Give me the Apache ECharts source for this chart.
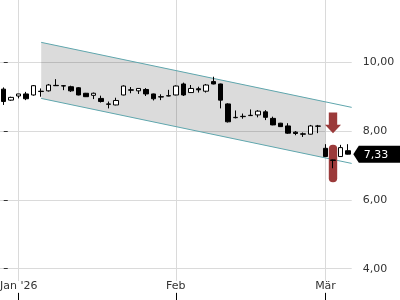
<!DOCTYPE html>
<html><head><meta charset="utf-8">
<style>html,body{margin:0;padding:0;background:#fff}#c{width:400px;height:300px}</style>
<script src="https://cdn.jsdelivr.net/npm/echarts@6/dist/echarts.min.js"></script>
</head><body><div id="c"></div>
<script>
// ---- data ----
const dates = ['2025-12-30','2025-12-31','2026-01-02','2026-01-05','2026-01-06','2026-01-07','2026-01-08','2026-01-09',
 '2026-01-12','2026-01-13','2026-01-14','2026-01-15','2026-01-16','2026-01-19','2026-01-20','2026-01-21','2026-01-22','2026-01-23',
 '2026-01-26','2026-01-27','2026-01-28','2026-01-29','2026-01-30','2026-02-02','2026-02-03','2026-02-04','2026-02-05','2026-02-06',
 '2026-02-09','2026-02-10','2026-02-11','2026-02-12','2026-02-13','2026-02-16','2026-02-17','2026-02-18','2026-02-19','2026-02-20',
 '2026-02-23','2026-02-24','2026-02-25','2026-02-26','2026-02-27','2026-03-02','2026-03-03','2026-03-04','2026-03-05'];
const opens  = [9.22,8.90,9.02,9.08,9.05,9.16,9.17,9.33,9.32,9.29,9.26,9.10,9.04,8.95,8.79,8.76,9.05,9.20,9.17,9.21,9.08,9.00,9.02,
 9.05,9.37,9.12,9.23,9.16,9.44,9.37,8.79,8.39,8.42,8.45,8.47,8.56,8.37,8.23,8.15,7.97,7.92,7.91,8.14,7.50,7.16,7.26,7.43];
const closes = [8.86,8.98,9.08,8.94,9.32,9.15,9.34,9.32,9.31,9.17,9.05,9.00,9.10,8.86,8.78,8.89,9.31,9.19,9.24,9.08,8.94,8.99,9.03,
 9.31,9.05,9.24,9.20,9.34,9.37,8.90,8.27,8.40,8.43,8.46,8.58,8.40,8.18,8.13,7.94,7.93,7.91,8.15,8.15,7.26,7.15,7.52,7.33];
const lows   = [8.76,8.88,8.95,8.90,9.03,9.00,9.15,9.31,9.19,9.14,9.04,8.99,8.93,8.83,8.66,8.75,9.04,9.10,9.08,9.02,8.89,8.90,9.01,
 9.04,9.02,9.11,9.12,9.12,9.36,8.66,8.25,8.37,8.36,8.44,8.40,8.32,8.17,8.12,7.92,7.88,7.83,7.90,7.94,7.25,6.92,7.25,7.32];
const highs  = [9.27,9.00,9.08,9.14,9.34,9.24,9.37,9.51,9.34,9.32,9.28,9.11,9.12,9.03,8.86,8.97,9.33,9.28,9.25,9.25,9.09,9.07,9.20,
 9.33,9.41,9.34,9.29,9.37,9.58,9.38,8.81,8.60,8.51,8.63,8.61,8.61,8.42,8.24,8.23,8.00,7.96,8.18,8.18,7.62,7.17,7.60,7.62];

const tickDates  = ['2026-01-02','2026-02-02','2026-03-02'];
const tickLabels = ["Jan '26", 'Feb', 'Mär'];

const yMin = 2, yMax = 12, yStep = 2;

// trend channel (x in trading-day index)
const channelX     = [5, 46.5];
const channelUpper = [10.58, 8.69];
const channelLower = [8.95, 7.06];
const fillX        = [5, 43];
const fillUpper    = [10.58, 8.85];
const fillLower    = [8.95, 7.22];

// signal marks
const signalX      = [44];
const arrowTop     = [8.54];
const arrowTip     = [7.94];
const barTop       = [7.60];
const barBottom    = [6.51];

// ---- chart ----
const tickIdx = tickDates.map(d => dates.indexOf(d));
const fmt = v => v.toFixed(2).replace('.', ',');
const lastPrice = closes[closes.length - 1];
const FONT = 'DejaVu Sans';

const chart = echarts.init(document.getElementById('c'), null, {renderer: 'canvas'});
chart.setOption({
  animation: false,
  textStyle: {fontFamily: FONT},
  grid: {left: 0, right: 48.3, top: -6.5, bottom: -37.5, containLabel: false, outerBoundsMode: 'none'},
  xAxis: [
    {type: 'category', data: dates, boundaryGap: true, show: false},
    {type: 'value', min: -0.5, max: dates.length - 0.5, position: 'bottom', offset: -37.5,
      axisLine: {show: false},
      axisTick: {show: true, inside: true, length: 7, customValues: tickIdx, lineStyle: {color: '#000'}},
      axisLabel: {show: true, inside: true, margin: 8, customValues: tickIdx, color: '#333', fontSize: 11,
        fontFamily: FONT, backgroundColor: '#fff',
        formatter: v => tickLabels[tickIdx.indexOf(Math.round(v))]},
      splitLine: {show: true, lineStyle: {color: '#dadada', width: 1}}
    }
  ],
  yAxis: {type: 'value', position: 'right', min: yMin, max: yMax, interval: yStep,
    axisLine: {show: false},
    axisTick: {show: true, length: 4, lineStyle: {color: '#333'}},
    axisLabel: {margin: 11, color: '#333', fontSize: 11, fontFamily: FONT, formatter: fmt},
    splitLine: {show: true, lineStyle: {color: '#dadada', width: 1}}
  },
  series: [
    {type: 'custom', xAxisIndex: 1, yAxisIndex: 0, z: 1, silent: true,
      data: [[fillX[0], fillUpper[0], fillLower[0]]],
      renderItem: (params, api) => {
        const pts = [
          api.coord([fillX[0], fillUpper[0]]), api.coord([fillX[1], fillUpper[1]]),
          api.coord([fillX[1], fillLower[1]]), api.coord([fillX[0], fillLower[0]])
        ];
        return {type: 'polygon', shape: {points: pts}, style: {fill: 'rgba(0,0,0,0.14)'}};
      }
    },
    {type: 'line', xAxisIndex: 1, yAxisIndex: 0, z: 2, silent: true, symbol: 'none',
      data: channelX.map((x, i) => [x, channelUpper[i]]), lineStyle: {color: '#5fa6ad', width: 1}},
    {type: 'line', xAxisIndex: 1, yAxisIndex: 0, z: 2, silent: true, symbol: 'none',
      data: channelX.map((x, i) => [x, channelLower[i]]), lineStyle: {color: '#5fa6ad', width: 1}},
    {type: 'custom', xAxisIndex: 1, yAxisIndex: 0, z: 3, silent: true,
      data: signalX.map((x, i) => [x, arrowTop[i], arrowTip[i], barTop[i], barBottom[i]]),
      renderItem: (params, api) => {
        const x = api.value(0);
        const t = api.coord([x, api.value(1)]);
        const tip = api.coord([x, api.value(2)]);
        const b1 = api.coord([x, api.value(3)]);
        const b2 = api.coord([x, api.value(4)]);
        const cx = t[0], sw = 4.2, hw = 8, hh = 8.3;
        const col = '#9b3a3a';
        return {type: 'group', children: [
          {type: 'polygon', shape: {points: [[cx - sw, t[1]], [cx + sw, t[1]], [cx + sw, tip[1] - hh], [cx + hw, tip[1] - hh],
            [cx, tip[1]], [cx - hw, tip[1] - hh], [cx - sw, tip[1] - hh]]}, style: {fill: col}},
          {type: 'rect', shape: {x: cx - sw, y: b1[1], width: sw * 2, height: b2[1] - b1[1], r: 4}, style: {fill: col}}
        ]};
      }
    },
    {type: 'candlestick', xAxisIndex: 0, yAxisIndex: 0, z: 4, barWidth: 5, silent: true,
      data: dates.map((d, i) => [opens[i], closes[i], lows[i], highs[i]]),
      itemStyle: {color: '#fff', color0: '#000', borderColor: '#000', borderColor0: '#000', borderColorDoji: '#000', borderWidth: 1}
    },
    {type: 'custom', xAxisIndex: 1, yAxisIndex: 0, z: 6, silent: true, clip: false,
      data: [[dates.length - 1, lastPrice]],
      renderItem: (params, api) => {
        const p = api.coord([api.value(0), api.value(1)]);
        const cs = params.coordSys;
        const x0 = cs.x + cs.width + 1.6;
        const h = 8.5, W = api.getWidth();
        return {type: 'group', children: [
          {type: 'polygon', shape: {points: [[x0, p[1]], [x0 + 5.5, p[1] - h], [W, p[1] - h], [W, p[1] + h], [x0 + 5.5, p[1] + h]]},
            style: {fill: '#000'}},
          {type: 'text', style: {text: fmt(api.value(1)), x: x0 + 10.5, y: p[1] + 0.5, verticalAlign: 'middle', align: 'left',
            fill: '#fff', font: '11px "DejaVu Sans"'}}
        ]};
      }
    }
  ]
});
</script>
</body></html>
